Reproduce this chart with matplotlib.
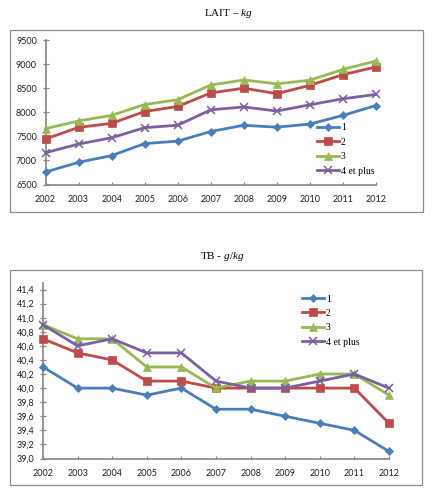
import matplotlib
matplotlib.use("Agg")
import matplotlib.pyplot as plt
from matplotlib.patches import Rectangle

years = ["2002", "2003", "2004", "2005", "2006", "2007", "2008", "2009", "2010", "2011", "2012"]
series_names = ["1", "2", "3", "4 et plus"]

lait_1 = [6760, 6960, 7100, 7350, 7400, 7600, 7730, 7690, 7755, 7935, 8140]
lait_2 = [7445, 7685, 7770, 8015, 8120, 8400, 8500, 8385, 8560, 8780, 8940]
lait_3 = [7660, 7820, 7935, 8160, 8260, 8565, 8670, 8590, 8665, 8890, 9065]
lait_4 = [7160, 7340, 7470, 7680, 7730, 8050, 8110, 8025, 8155, 8280, 8370]

tb_1 = [40.3, 40.0, 40.0, 39.9, 40.0, 39.7, 39.7, 39.6, 39.5, 39.4, 39.1]
tb_2 = [40.7, 40.5, 40.4, 40.1, 40.1, 40.0, 40.0, 40.0, 40.0, 40.0, 39.5]
tb_3 = [40.9, 40.7, 40.7, 40.3, 40.3, 40.0, 40.1, 40.1, 40.2, 40.2, 39.9]
tb_4 = [40.9, 40.6, 40.7, 40.5, 40.5, 40.1, 40.0, 40.0, 40.1, 40.2, 40.0]

lait_ticks = [6500, 7000, 7500, 8000, 8500, 9000, 9500]
tb_ticks = [39.0, 39.2, 39.4, 39.6, 39.8, 40.0, 40.2, 40.4, 40.6, 40.8, 41.0, 41.2, 41.4]

colors = ["#4A7EBB", "#BE4B48", "#98B954", "#7D60A0"]
markers = ["D", "s", "^", "x"]
msizes = [4.5, 5.5, 5.8, 5.5]

plt.rcParams["font.family"] = ["Liberation Serif", "DejaVu Serif"]
plt.rcParams["mathtext.fontset"] = "custom"
plt.rcParams["mathtext.rm"] = "Liberation Serif"
plt.rcParams["mathtext.it"] = "Liberation Serif:italic"

TICK_FONT = ["Lato", "DejaVu Sans"]
AXIS_GRAY = "#868686"

W, H = 436, 497
fig = plt.figure(figsize=(W / 100, H / 100), dpi=100)
fig.patch.set_facecolor("white")


def fx(px):
    return px / W


def fy(py):
    return 1 - py / H


def add_frame(x0, y0, x1, y1):
    fig.add_artist(Rectangle((fx(x0), fy(y1)), fx(x1) - fx(x0), fy(y0) - fy(y1),
                             transform=fig.transFigure, fill=False,
                             edgecolor="#8C8C8C", linewidth=0.9))


def style_axes(ax):
    for s in ["top", "right"]:
        ax.spines[s].set_visible(False)
    for s in ["left", "bottom"]:
        ax.spines[s].set_color(AXIS_GRAY)
        ax.spines[s].set_linewidth(1.2)
    ax.tick_params(axis="y", direction="inout", length=4.3, width=0.9,
                   color=AXIS_GRAY, labelsize=6.5, pad=4.0, labelcolor="#202020")
    ax.tick_params(axis="x", direction="in", length=2.3, width=0.9,
                   color=AXIS_GRAY, labelsize=6.5, pad=7.5, labelcolor="#202020")
    ax.set_xticks(range(len(years)))
    ax.set_xticklabels(years)
    for lab in ax.get_xticklabels() + ax.get_yticklabels():
        lab.set_family(TICK_FONT)


def draw_series(ax, data):
    for vals, c, m, ms, name in zip(data, colors, markers, msizes, series_names):
        ax.plot(range(len(years)), vals, color=c, marker=m, markersize=ms, linewidth=2.0,
                markeredgewidth=1.1 if m == "x" else 0.5, markeredgecolor=c, label=name,
                clip_on=False, zorder=3)


# Chart 1: LAIT
add_frame(10, 30, 423, 212)
fig.text(fx(228), fy(13.5), r"LAIT – $\it{kg}$", ha="center", va="center", fontsize=8)
ax1 = fig.add_axes([fx(45.5), fy(184.5), fx(376) - fx(45.5), fy(40) - fy(184.5)])
style_axes(ax1)
draw_series(ax1, [lait_1, lait_2, lait_3, lait_4])
ax1.set_xlim(0, len(years) - 1)
ax1.set_ylim(6500, 9500)
ax1.set_yticks(lait_ticks)
ax1.set_yticklabels([str(v) for v in lait_ticks])
for lab in ax1.get_yticklabels():
    lab.set_family(TICK_FONT)
ax1.legend(loc="upper left",
           bbox_to_anchor=((317 - 45.5) / (376 - 45.5), (184.5 - 123.5) / (184.5 - 40)),
           frameon=False, fontsize=7, handlelength=2.3, handletextpad=0.15,
           labelspacing=0.55, borderpad=0, borderaxespad=0)

# Chart 2: TB
add_frame(10, 270, 422, 485)
fig.text(fx(222.5), fy(256.7), r"TB - $\it{g/kg}$", ha="center", va="center", fontsize=8)
ax2 = fig.add_axes([fx(43), fy(458.5), fx(389) - fx(43), fy(282.5) - fy(458.5)])
style_axes(ax2)
draw_series(ax2, [tb_1, tb_2, tb_3, tb_4])
ax2.set_xlim(0, len(years) - 1)
ax2.set_ylim(39.0, 41.5)
ax2.set_yticks(tb_ticks)
ax2.set_yticklabels([f"{v:.1f}".replace(".", ",") for v in tb_ticks])
for lab in ax2.get_yticklabels():
    lab.set_family(TICK_FONT)
ax2.legend(loc="upper left",
           bbox_to_anchor=((302 - 43) / (389 - 43), (458.5 - 294.5) / (458.5 - 282.5)),
           frameon=False, fontsize=7, handlelength=2.3, handletextpad=0.15,
           labelspacing=0.55, borderpad=0, borderaxespad=0)

fig.savefig("out.png", dpi=100, facecolor="white")
